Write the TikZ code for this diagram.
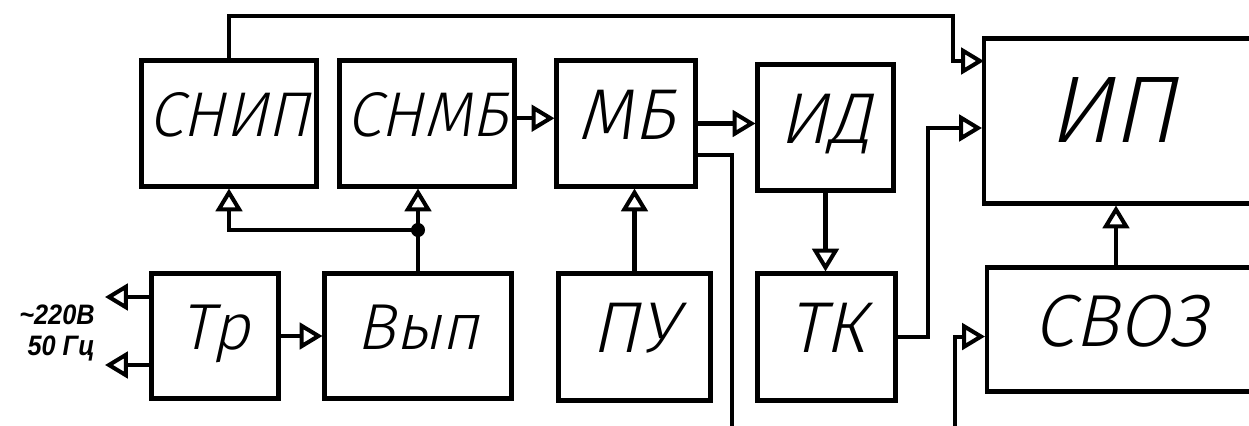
\documentclass[tikz,border=0pt]{standalone}
\usepackage{fontspec}
\setmainfont{Liberation Sans}[FakeStretch=0.9]
\newfontfamily\gost{Fira Sans}[UprightFont={* Light}, FakeSlant=0.22]
\usetikzlibrary{arrows.meta}

\tikzset{
  blk/.style={draw, line width=2.3pt, inner sep=0pt},
  wire/.style={line width=2.3pt},
  sig/.style={wire, -{Triangle[open,length=13pt,width=15pt]}},
  lab/.style={font=\gost\fontsize{#1}{#1}\selectfont, text depth=0pt, inner sep=0pt}
}

\begin{document}
\begin{tikzpicture}[x=0.02cm,y=-0.02cm]
\useasboundingbox (0,0) rectangle (1249,426);
\clip (0,0) rectangle (1249,426);
% upper row
\node[blk, minimum width=3.5cm, minimum height=2.52cm,
  label={[lab=36pt, yshift=5pt]center:СНИП}] (snip) at (229,123.5) {};
\node[blk, minimum width=3.5cm, minimum height=2.52cm,
  label={[lab=36pt, yshift=5pt]center:СНМБ}] (snmb) at (427,123.5) {};
\node[blk, minimum width=2.78cm, minimum height=2.52cm,
  label={[lab=41pt, yshift=5pt]center:МБ}] (mb) at (626,123.5) {};
\node[blk, minimum width=2.72cm, minimum height=2.52cm,
  label={[lab=41pt, yshift=5pt]center:ИД}] (id) at (825.5,127.5) {};
\node[blk, minimum width=5.56cm, minimum height=3.3cm,
  label={[lab=54pt, xshift=-6pt, yshift=6pt]center:ИП}] (ip) at (1123,121) {};
% lower row
\node[blk, minimum width=2.54cm, minimum height=2.5cm,
  label={[lab=37pt, yshift=5pt]center:Тр}] (tr) at (215,336) {};
\node[blk, minimum width=3.74cm, minimum height=2.5cm,
  label={[lab=37pt, yshift=5pt]center:Вып}] (vyp) at (418,336) {};
\node[blk, minimum width=3.04cm, minimum height=2.54cm,
  label={[lab=41pt, yshift=5pt]center:ПУ}] (pu) at (634.5,337) {};
\node[blk, minimum width=2.76cm, minimum height=2.54cm,
  label={[lab=41pt, yshift=5pt]center:ТК}] (tk) at (826.5,337) {};
\node[blk, minimum width=5.5cm, minimum height=2.48cm,
  label={[lab=42pt, xshift=-2.5pt, yshift=5pt]center:СВОЗ}] (svoz) at (1124.5,329.5) {};
% mains
\node[font=\bfseries\itshape\fontsize{16}{17.6}\selectfont, align=right,
  anchor=east, inner sep=0pt] (mains) at (95,333) {\textasciitilde220В\\50 Гц};

\coordinate (m1) at (105,297);
\coordinate (m2) at (105,365);
\coordinate (j) at (418,230);
\coordinate (b1) at (953,16);
\coordinate (ipin1) at (984,61);
\coordinate (b2) at (928,128);
\coordinate (c3) at (1116,300);
\coordinate (out1) at (732,440);
\coordinate (in2) at (955,440);

\draw[sig] (tr.west |- m1) -- (m1);
\draw[sig] (tr.west |- m2) -- (m2);
\draw[sig] (tr.east) -- (vyp.west);
\draw[sig] (vyp.north) -- (vyp.north |- snmb.south);
\draw[sig] (j) -| (snip.south);
\fill (j) circle (4pt);
\draw[sig] (pu.north) -- (pu.north |- mb.south);
\draw[sig] (snip.north) |- (b1) |- (ipin1);
\draw[sig] ([yshift=3pt]snmb.east) -- ([yshift=3pt]mb.west);
\draw[sig] (mb.east) -- (mb.east -| id.west);
\draw[wire] ([yshift=-18pt]mb.east) -| (out1);
\draw[sig] (id.south) -- (id.south |- tk.north);
\draw[sig] (tk.east) -| (b2) -- (b2 -| ip.west);
\draw[sig] (c3 |- svoz.north) -- (c3 |- ip.south);
\draw[sig] (in2) |- ([yshift=-4pt]svoz.west);
\end{tikzpicture}
\end{document}
